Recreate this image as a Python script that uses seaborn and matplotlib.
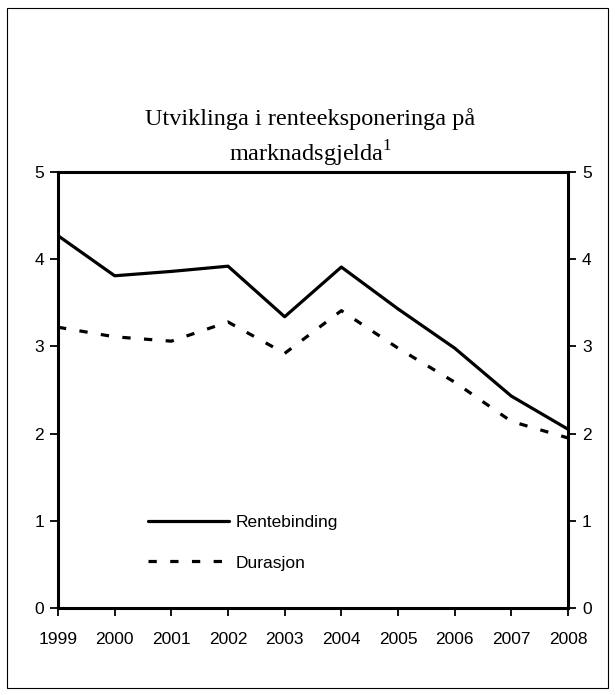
import pandas as pd
import matplotlib
matplotlib.use("Agg")
import matplotlib.pyplot as plt
import seaborn as sns

# values
years = [1999, 2000, 2001, 2002, 2003, 2004, 2005, 2006, 2007, 2008]
rentebinding = [4.27, 3.81, 3.86, 3.92, 3.34, 3.91, 3.43, 2.98, 2.43, 2.05]
durasjon = [3.22, 3.11, 3.06, 3.28, 2.92, 3.41, 2.98, 2.59, 2.14, 1.95]
y_ticks = [0, 1, 2, 3, 4, 5]

df = pd.DataFrame({
    'År': years * 2,
    'Verdi': rentebinding + durasjon,
    'Serie': ['Rentebinding'] * len(years) + ['Durasjon'] * len(years),
})

sns.set_style("white")
plt.rcParams['font.family'] = ['Liberation Sans', 'DejaVu Sans']
plt.rcParams['text.color'] = 'black'
plt.rcParams['mathtext.fontset'] = 'custom'
plt.rcParams['mathtext.rm'] = 'Liberation Serif'

fig = plt.figure(figsize=(6.15, 6.95), dpi=100)
ax = fig.add_axes([0.0943, 0.1252, 0.8293, 0.6273])

sns.lineplot(data=df, x='År', y='Verdi', style='Serie', color='black',
             linewidth=2.3, dashes={'Rentebinding': '', 'Durasjon': (2.6, 4.2)},
             ax=ax, legend=True)

ax.set_xlim(1999, 2008)
ax.set_ylim(0, 5)
ax.set_xticks(years)
ax.set_yticks(y_ticks)
ax.set_xlabel('')
ax.set_ylabel('')
for s in ['left', 'right', 'bottom', 'top']:
    ax.spines[s].set_visible(True)
    ax.spines[s].set_color('black')
    ax.spines[s].set_linewidth(2.2)

ax.tick_params(axis='both', direction='out', length=6, width=1.3, colors='black',
               labelsize=12.5, left=True, bottom=True)
ax.tick_params(axis='y', right=True, labelright=True, pad=4)
ax.tick_params(axis='x', pad=11)

leg = ax.legend(loc='lower left', bbox_to_anchor=(0.145, 0.05), frameon=False,
                fontsize=12.5, handlelength=4.7, handletextpad=0.35, labelspacing=1.45)
for line in leg.get_lines():
    line.set_linewidth(2.3)
for t in leg.get_texts():
    t.set_color('black')

fig.text(0.505, 0.801, 'Utviklinga i renteeksponeringa på\nmarknadsgjelda$^{1}$',
         ha='center', va='center', fontsize=17.5, family='Liberation Serif',
         color='black', linespacing=1.4)

border = plt.Rectangle((0.012, 0.01), 0.976, 0.978, transform=fig.transFigure,
                       fill=False, edgecolor='black', linewidth=0.8)
fig.patches.append(border)

fig.savefig('out.png', dpi=100)
